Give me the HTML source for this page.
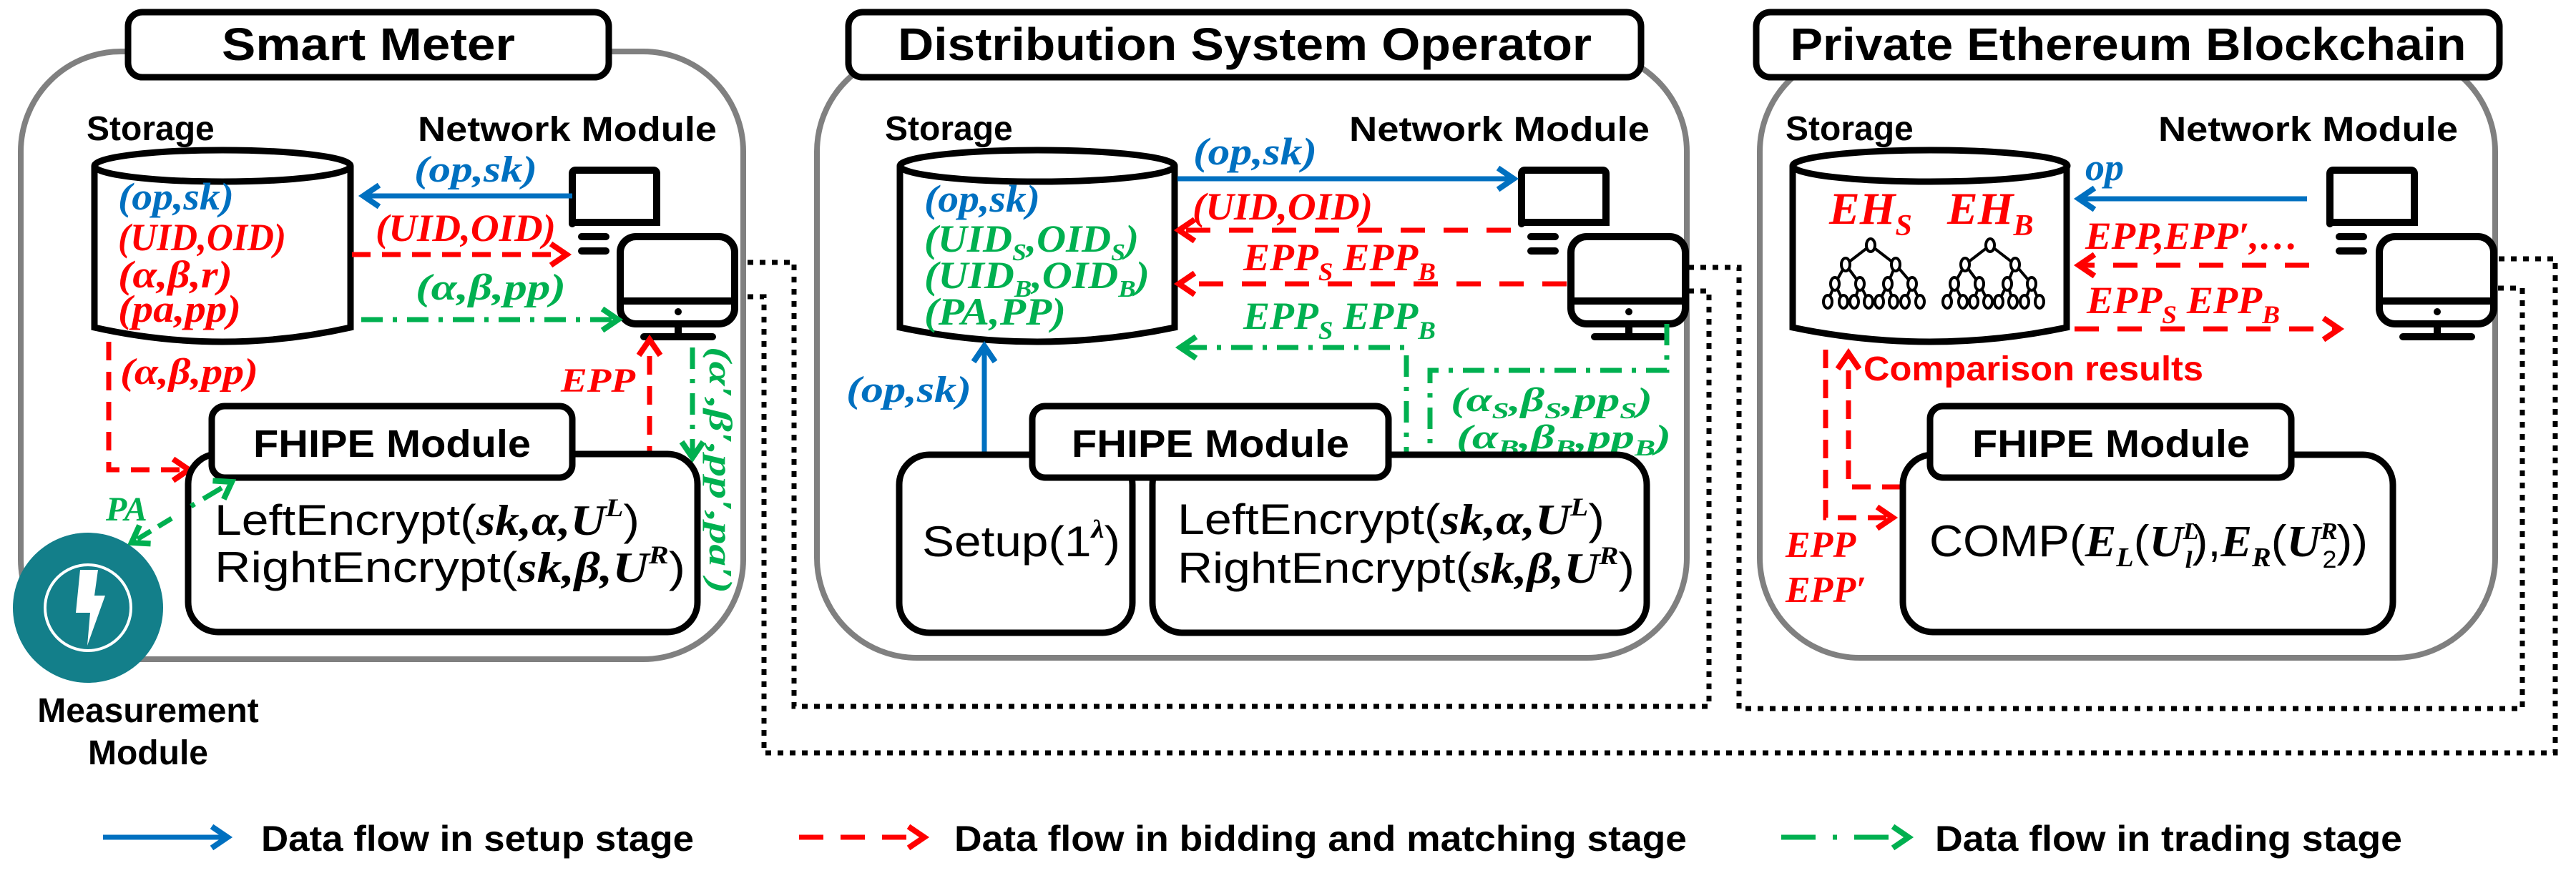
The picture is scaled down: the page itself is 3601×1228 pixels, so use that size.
<!DOCTYPE html>
<html><head><meta charset="utf-8"><style>
html,body{margin:0;padding:0;background:#fff}
svg{display:block}
.t{font-family:"Liberation Sans",sans-serif;font-weight:bold;fill:#000}
.s{font-family:"Liberation Sans",sans-serif;fill:#000}
.m{font-family:"Liberation Serif",serif;font-weight:bold;font-style:italic}
.b{fill:#0070c0}.r{fill:#ff0000}.g{fill:#00b050}
</style></head><body>
<svg width="3601" height="1228" viewBox="0 0 3601 1228" xmlns="http://www.w3.org/2000/svg">
<defs>
<marker id="ab" markerUnits="userSpaceOnUse" markerWidth="40" markerHeight="40" refX="30" refY="20" orient="auto"><path d="M8,5 L30,20 L8,35" fill="none" stroke="#0070c0" stroke-width="8"/></marker>
<marker id="ar" markerUnits="userSpaceOnUse" markerWidth="40" markerHeight="40" refX="30" refY="20" orient="auto"><path d="M8,5 L30,20 L8,35" fill="none" stroke="#ff0000" stroke-width="8"/></marker>
<marker id="ag" markerUnits="userSpaceOnUse" markerWidth="40" markerHeight="40" refX="30" refY="20" orient="auto"><path d="M8,5 L30,20 L8,35" fill="none" stroke="#00b050" stroke-width="8"/></marker>
<g id="tree" fill="#fff" stroke="#000" stroke-width="4">
<path d="M0,0 L-35,27 M0,0 L35,27 M-35,27 L-50,54 M-35,27 L-15,54 M35,27 L24,54 M35,27 L58,54 M-50,54 L-60,79 M-50,54 L-38,79 M-15,54 L-23,79 M-15,54 L-3,79 M24,54 L12,79 M24,54 L32,79 M58,54 L48,79 M58,54 L69,79" fill="none"/>
<ellipse cx="0" cy="0" rx="6" ry="9"/>
<ellipse cx="-35" cy="27" rx="6" ry="9"/><ellipse cx="35" cy="27" rx="6" ry="9"/>
<ellipse cx="-50" cy="54" rx="6" ry="9"/><ellipse cx="-15" cy="54" rx="6" ry="9"/><ellipse cx="24" cy="54" rx="6" ry="9"/><ellipse cx="58" cy="54" rx="6" ry="9"/>
<ellipse cx="-60" cy="79" rx="6" ry="9"/><ellipse cx="-38" cy="79" rx="6" ry="9"/><ellipse cx="-23" cy="79" rx="6" ry="9"/><ellipse cx="-3" cy="79" rx="6" ry="9"/><ellipse cx="12" cy="79" rx="6" ry="9"/><ellipse cx="32" cy="79" rx="6" ry="9"/><ellipse cx="48" cy="79" rx="6" ry="9"/><ellipse cx="69" cy="79" rx="6" ry="9"/>
</g>
<g id="mon1" fill="none" stroke="#000" stroke-width="10" stroke-linecap="round">
<path d="M5,76 L5,6 Q5,1 10,1 L118,1 Q123,1 123,6 L123,74 L5,74"/>
<path d="M18,94 L52,94 M18,114 L52,114"/>
</g>
<g id="mon2">
<rect x="5" y="5" width="160" height="122" rx="22" fill="#fff" stroke="#000" stroke-width="10"/>
<line x1="5" y1="95" x2="165" y2="95" stroke="#000" stroke-width="10"/>
<circle cx="86" cy="110" r="5" fill="#000"/>
<line x1="86" y1="127" x2="86" y2="145" stroke="#000" stroke-width="10"/>
<line x1="38" y1="145" x2="134" y2="145" stroke="#000" stroke-width="10" stroke-linecap="round"/>
</g>
</defs>

<rect x="29" y="72" width="1010" height="850" rx="140" fill="none" stroke="#808080" stroke-width="8"/>
<rect x="1142" y="72" width="1216" height="848" rx="140" fill="none" stroke="#808080" stroke-width="8"/>
<rect x="2460" y="72" width="1028" height="848" rx="140" fill="none" stroke="#808080" stroke-width="8"/>

<g fill="none" stroke="#000" stroke-width="7" stroke-dasharray="8 9">
<path d="M1045,367 L1110,367 L1110,988 L2389,988 L2389,407 L2360,407"/>
<path d="M1045,415 L1068,415 L1068,1053 L3572,1053 L3572,362 L3491,362"/>
<path d="M2360,374 L2431,374 L2431,991 L3526,991 L3526,403 L3491,403"/>
</g>

<rect x="179" y="17" width="672" height="91" rx="20" fill="#fff" stroke="#000" stroke-width="9"/>
<text class="t" x="515" y="84" font-size="64" text-anchor="middle" textLength="410" lengthAdjust="spacingAndGlyphs">Smart Meter</text>
<rect x="1186" y="17" width="1108" height="91" rx="20" fill="#fff" stroke="#000" stroke-width="9"/>
<text class="t" x="1740" y="84" font-size="64" text-anchor="middle" textLength="970" lengthAdjust="spacingAndGlyphs">Distribution System Operator</text>
<rect x="2455" y="17" width="1039" height="91" rx="20" fill="#fff" stroke="#000" stroke-width="9"/>
<text class="t" x="2975" y="84" font-size="64" text-anchor="middle" textLength="945" lengthAdjust="spacingAndGlyphs">Private Ethereum Blockchain</text>

<text class="t" x="121" y="196" font-size="48">Storage</text>
<text class="t" x="584" y="197" font-size="48" textLength="418" lengthAdjust="spacingAndGlyphs">Network Module</text>
<text class="t" x="1237" y="196" font-size="48">Storage</text>
<text class="t" x="1886" y="197" font-size="48" textLength="420" lengthAdjust="spacingAndGlyphs">Network Module</text>
<text class="t" x="2496" y="196" font-size="48">Storage</text>
<text class="t" x="3017" y="197" font-size="48" textLength="419" lengthAdjust="spacingAndGlyphs">Network Module</text>

<g fill="#fff" stroke="#000" stroke-width="9">
<path d="M132,232 L132,458 Q311,498 490,458 L490,232"/><ellipse cx="311" cy="232" rx="179" ry="22"/>
<path d="M1258,232 L1258,458 Q1450,498 1642,458 L1642,232"/><ellipse cx="1450" cy="232" rx="192" ry="22"/>
<path d="M2506,232 L2506,458 Q2698,498 2889,458 L2889,232"/><ellipse cx="2698" cy="232" rx="192" ry="22"/>
</g>

<use href="#mon1" x="795" y="237"/><use href="#mon2" x="862" y="326"/>
<use href="#mon1" x="2122" y="237"/><use href="#mon2" x="2191" y="326"/>
<use href="#mon1" x="3252" y="237"/><use href="#mon2" x="3321" y="326"/>

<text class="m b" x="165" y="293" font-size="54" textLength="162" lengthAdjust="spacingAndGlyphs">(op,sk)</text>
<text class="m r" x="165" y="350" font-size="54" textLength="235" lengthAdjust="spacingAndGlyphs">(UID,OID)</text>
<text class="m r" x="165" y="402" font-size="54" textLength="160" lengthAdjust="spacingAndGlyphs">(α,β,r)</text>
<text class="m r" x="165" y="450" font-size="54" textLength="172" lengthAdjust="spacingAndGlyphs">(pa,pp)</text>

<line x1="800" y1="274" x2="508" y2="274" stroke="#0070c0" stroke-width="7" marker-end="url(#ab)"/>
<text class="m b" x="579" y="254" font-size="52" textLength="172" lengthAdjust="spacingAndGlyphs">(op,sk)</text>
<line x1="492" y1="356" x2="792" y2="356" stroke="#ff0000" stroke-width="7" stroke-dasharray="26 16" marker-end="url(#ar)"/>
<text class="m r" x="525" y="337" font-size="54" textLength="252" lengthAdjust="spacingAndGlyphs">(UID,OID)</text>
<line x1="505" y1="447" x2="864" y2="447" stroke="#00b050" stroke-width="7" stroke-dasharray="30 14 6 14" marker-end="url(#ag)"/>
<text class="m g" x="581" y="419" font-size="52" textLength="210" lengthAdjust="spacingAndGlyphs">(α,β,pp)</text>
<path d="M152,478 L152,657 L264,657" fill="none" stroke="#ff0000" stroke-width="7" stroke-dasharray="26 16" marker-end="url(#ar)"/>
<text class="m r" x="168" y="537" font-size="52" textLength="193" lengthAdjust="spacingAndGlyphs">(α,β,pp)</text>
<line x1="908" y1="650" x2="908" y2="475" stroke="#ff0000" stroke-width="7" stroke-dasharray="26 16" marker-end="url(#ar)"/>
<text class="m r" x="784" y="548" font-size="48" textLength="104" lengthAdjust="spacingAndGlyphs">EPP</text>
<line x1="968" y1="486" x2="968" y2="640" stroke="#00b050" stroke-width="7" stroke-dasharray="30 14 6 14" marker-end="url(#ag)"/>
<text class="m g" font-size="46" transform="translate(992,485) rotate(90)" textLength="345" lengthAdjust="spacingAndGlyphs">(α′,β′,pp′,pa′)</text>

<rect x="263" y="635" width="712" height="249" rx="42" fill="#fff" stroke="#000" stroke-width="9"/>
<rect x="296" y="568" width="504" height="100" rx="18" fill="#fff" stroke="#000" stroke-width="9"/>
<text class="t" x="548" y="639" font-size="54" text-anchor="middle" textLength="388" lengthAdjust="spacingAndGlyphs">FHIPE Module</text>
<text x="300" y="748" font-size="60" textLength="594" lengthAdjust="spacingAndGlyphs"><tspan class="s">LeftEncrypt(</tspan><tspan class="m">sk,α,U</tspan><tspan class="m" font-size="36" dy="-26">L</tspan><tspan class="s" dy="26">)</tspan></text>
<text x="300" y="814" font-size="60" textLength="658" lengthAdjust="spacingAndGlyphs"><tspan class="s">RightEncrypt(</tspan><tspan class="m">sk,β,U</tspan><tspan class="m" font-size="36" dy="-26">R</tspan><tspan class="s" dy="26">)</tspan></text>

<line x1="240" y1="725" x2="184" y2="759" stroke="#00b050" stroke-width="7" stroke-dasharray="22 12" marker-end="url(#ag)"/>
<line x1="267" y1="708" x2="324" y2="674" stroke="#00b050" stroke-width="7" stroke-dasharray="6 14 30 14" marker-end="url(#ag)"/>
<text class="m g" x="148" y="728" font-size="48">PA</text>
<circle cx="123" cy="850" r="105" fill="#137f8a"/>
<circle cx="123" cy="850" r="60" fill="none" stroke="#fff" stroke-width="4"/>
<polygon points="112,797 137,797 132,833 147,833 122,903 126,857 106,857" fill="#fff"/>
<text class="t" x="207" y="1010" font-size="48" text-anchor="middle">Measurement</text>
<text class="t" x="207" y="1069" font-size="48" text-anchor="middle">Module</text>

<text class="m b" x="1292" y="296" font-size="54" textLength="162" lengthAdjust="spacingAndGlyphs">(op,sk)</text>
<text class="m g" x="1292" y="352" font-size="54" textLength="300" lengthAdjust="spacingAndGlyphs">(UID<tspan font-size="34" dy="12">S</tspan><tspan dy="-12">,OID</tspan><tspan font-size="34" dy="12">S</tspan><tspan dy="-12">)</tspan></text>
<text class="m g" x="1292" y="403" font-size="54" textLength="315" lengthAdjust="spacingAndGlyphs">(UID<tspan font-size="34" dy="12">B</tspan><tspan dy="-12">,OID</tspan><tspan font-size="34" dy="12">B</tspan><tspan dy="-12">)</tspan></text>
<text class="m g" x="1292" y="454" font-size="54" textLength="198" lengthAdjust="spacingAndGlyphs">(PA,PP)</text>

<line x1="1646" y1="250" x2="2116" y2="250" stroke="#0070c0" stroke-width="7" marker-end="url(#ab)"/>
<text class="m b" x="1668" y="230" font-size="54" textLength="173" lengthAdjust="spacingAndGlyphs">(op,sk)</text>
<line x1="2112" y1="322" x2="1648" y2="322" stroke="#ff0000" stroke-width="7" stroke-dasharray="34 26" marker-end="url(#ar)"/>
<text class="m r" x="1667" y="307" font-size="54" textLength="252" lengthAdjust="spacingAndGlyphs">(UID,OID)</text>
<line x1="2190" y1="397" x2="1648" y2="397" stroke="#ff0000" stroke-width="7" stroke-dasharray="34 26" marker-end="url(#ar)"/>
<text class="m r" x="1738" y="378" font-size="54" textLength="269" lengthAdjust="spacingAndGlyphs">EPP<tspan font-size="36" dy="14">S</tspan><tspan dy="-14"> EPP</tspan><tspan font-size="36" dy="14">B</tspan></text>
<path d="M1966,655 L1966,486 L1650,486" fill="none" stroke="#00b050" stroke-width="7" stroke-dasharray="30 14 6 14" marker-end="url(#ag)"/>
<text class="m g" x="1738" y="460" font-size="54" textLength="269" lengthAdjust="spacingAndGlyphs">EPP<tspan font-size="36" dy="14">S</tspan><tspan dy="-14"> EPP</tspan><tspan font-size="36" dy="14">B</tspan></text>
<path d="M2330,453 L2330,518 L1999,518 L1999,656" fill="none" stroke="#00b050" stroke-width="7" stroke-dasharray="30 14 6 14" marker-end="url(#ag)"/>
<text class="m g" x="2028" y="575" font-size="48" textLength="282" lengthAdjust="spacingAndGlyphs">(α<tspan font-size="32" dy="10">S</tspan><tspan dy="-10">,β</tspan><tspan font-size="32" dy="10">S</tspan><tspan dy="-10">,pp</tspan><tspan font-size="32" dy="10">S</tspan><tspan dy="-10">)</tspan></text>
<text class="m g" x="2036" y="627" font-size="48" textLength="300" lengthAdjust="spacingAndGlyphs">(α<tspan font-size="32" dy="10">B</tspan><tspan dy="-10">,β</tspan><tspan font-size="32" dy="10">B</tspan><tspan dy="-10">,pp</tspan><tspan font-size="32" dy="10">B</tspan><tspan dy="-10">)</tspan></text>
<line x1="1376" y1="668" x2="1376" y2="484" stroke="#0070c0" stroke-width="7" marker-end="url(#ab)"/>
<text class="m b" x="1183" y="562" font-size="52" textLength="175" lengthAdjust="spacingAndGlyphs">(op,sk)</text>

<rect x="1257" y="636" width="326" height="249" rx="42" fill="#fff" stroke="#000" stroke-width="9"/>
<rect x="1611" y="636" width="691" height="249" rx="42" fill="#fff" stroke="#000" stroke-width="9"/>
<rect x="1443" y="568" width="498" height="100" rx="18" fill="#fff" stroke="#000" stroke-width="9"/>
<text class="t" x="1692" y="639" font-size="54" text-anchor="middle" textLength="388" lengthAdjust="spacingAndGlyphs">FHIPE Module</text>
<text x="1289" y="778" font-size="60" textLength="277" lengthAdjust="spacingAndGlyphs"><tspan class="s">Setup(1</tspan><tspan class="m" font-size="36" dy="-26">λ</tspan><tspan class="s" dy="26">)</tspan></text>
<text x="1646" y="747" font-size="60" textLength="597" lengthAdjust="spacingAndGlyphs"><tspan class="s">LeftEncrypt(</tspan><tspan class="m">sk,α,U</tspan><tspan class="m" font-size="36" dy="-26">L</tspan><tspan class="s" dy="26">)</tspan></text>
<text x="1646" y="815" font-size="60" textLength="639" lengthAdjust="spacingAndGlyphs"><tspan class="s">RightEncrypt(</tspan><tspan class="m">sk,β,U</tspan><tspan class="m" font-size="36" dy="-26">R</tspan><tspan class="s" dy="26">)</tspan></text>

<text class="m r" x="2557" y="313" font-size="64">EH<tspan font-size="42" dy="16">S</tspan></text>
<text class="m r" x="2722" y="313" font-size="64">EH<tspan font-size="42" dy="16">B</tspan></text>
<use href="#tree" x="2615" y="343"/><use href="#tree" x="2782" y="343"/>

<line x1="3225" y1="278" x2="2906" y2="278" stroke="#0070c0" stroke-width="7" marker-end="url(#ab)"/>
<text class="m b" x="2915" y="252" font-size="54">op</text>
<line x1="3228" y1="371" x2="2906" y2="371" stroke="#ff0000" stroke-width="7" stroke-dasharray="34 26" marker-end="url(#ar)"/>
<text class="m r" x="2915" y="348" font-size="54" textLength="298" lengthAdjust="spacingAndGlyphs">EPP,EPP′,…</text>
<line x1="2900" y1="460" x2="3270" y2="460" stroke="#ff0000" stroke-width="7" stroke-dasharray="34 26" marker-end="url(#ar)"/>
<text class="m r" x="2917" y="438" font-size="54" textLength="270" lengthAdjust="spacingAndGlyphs">EPP<tspan font-size="36" dy="14">S</tspan><tspan dy="-14"> EPP</tspan><tspan font-size="36" dy="14">B</tspan></text>
<path d="M2657,681 L2584,681 L2584,494" fill="none" stroke="#ff0000" stroke-width="7" stroke-dasharray="26 16" marker-end="url(#ar)"/>
<path d="M2552,489 L2552,724 L2646,724" fill="none" stroke="#ff0000" stroke-width="7" stroke-dasharray="26 16" marker-end="url(#ar)"/>
<text class="t" x="2605" y="532" font-size="48" style="fill:#ff0000" textLength="475" lengthAdjust="spacingAndGlyphs">Comparison results</text>
<text class="m r" x="2496" y="779" font-size="52">EPP</text>
<text class="m r" x="2496" y="842" font-size="52">EPP′</text>

<rect x="2660" y="636" width="685" height="248" rx="42" fill="#fff" stroke="#000" stroke-width="9"/>
<rect x="2698" y="568" width="505" height="100" rx="18" fill="#fff" stroke="#000" stroke-width="9"/>
<text class="t" x="2951" y="639" font-size="54" text-anchor="middle" textLength="388" lengthAdjust="spacingAndGlyphs">FHIPE Module</text>
<text x="2697" y="778" font-size="62" textLength="613" lengthAdjust="spacingAndGlyphs"><tspan class="s">COMP(</tspan><tspan class="m">E</tspan><tspan class="m" font-size="38" dy="14">L</tspan><tspan class="s" dy="-14">(</tspan><tspan class="m">U</tspan><tspan class="m" font-size="34" dy="-24">L</tspan><tspan class="m" font-size="34" dx="-18" dy="40">l</tspan><tspan class="s" dy="-16">),</tspan><tspan class="m">E</tspan><tspan class="m" font-size="38" dy="14">R</tspan><tspan class="s" dy="-14">(</tspan><tspan class="m">U</tspan><tspan class="m" font-size="34" dy="-24">R</tspan><tspan class="s" font-size="34" dx="-20" dy="40">2</tspan><tspan class="s" dy="-16">))</tspan></text>

<line x1="144" y1="1171" x2="318" y2="1171" stroke="#0070c0" stroke-width="7" marker-end="url(#ab)"/>
<text class="t" x="365" y="1190" font-size="50" textLength="605" lengthAdjust="spacingAndGlyphs">Data flow in setup stage</text>
<line x1="1117" y1="1171" x2="1292" y2="1171" stroke="#ff0000" stroke-width="7" stroke-dasharray="34 24" marker-end="url(#ar)"/>
<text class="t" x="1334" y="1190" font-size="50" textLength="1024" lengthAdjust="spacingAndGlyphs">Data flow in bidding and matching stage</text>
<line x1="2490" y1="1171" x2="2668" y2="1171" stroke="#00b050" stroke-width="7" stroke-dasharray="48 24 6 24" marker-end="url(#ag)"/>
<text class="t" x="2705" y="1190" font-size="50" textLength="653" lengthAdjust="spacingAndGlyphs">Data flow in trading stage</text>
</svg>
</body></html>
